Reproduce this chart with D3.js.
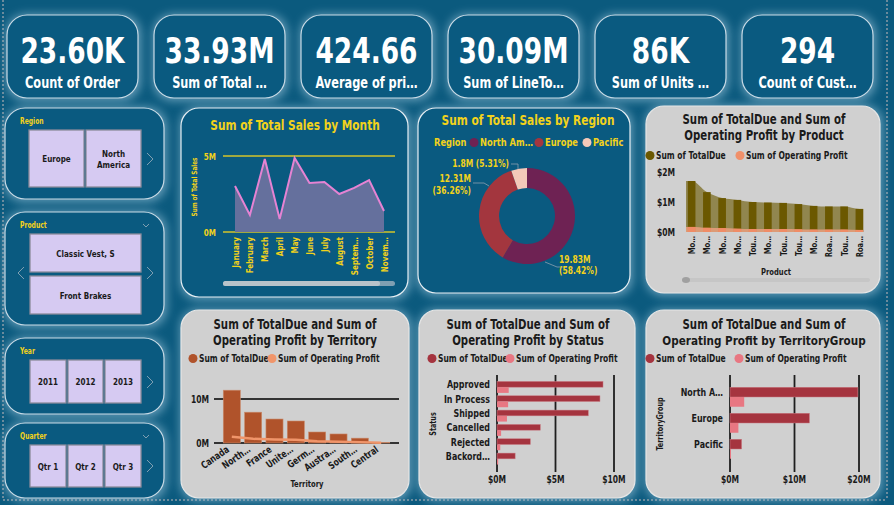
<!DOCTYPE html>
<html><head><meta charset="utf-8">
<script src="https://cdn.jsdelivr.net/npm/d3@7"></script>
<style>body{margin:0;background:#0b5a7e;overflow:hidden}svg{display:block}</style>
</head><body><script>
// ---------- DATA ----------
const kpiValues = ["23.60K","33.93M","424.66","30.09M","86K","294"];
const kpiLabels = ["Count of Order","Sum of Total …","Average of pri…","Sum of LineTo…","Sum of Units …","Count of Cust…"];

const months = ["January","February","March","April","May","June","July","August","Septem…","October","Novem…"];
const monthSales = [3.03,1.12,4.8,0.86,4.87,3.22,3.29,2.5,2.9,3.42,1.38]; // millions

const regions = ["North Am…","Europe","Pacific"];
const regionSales = [19.83,12.31,1.8];
const regionPct = ["58.42%","36.26%","5.31%"];

const products = ["Mo…","Mo…","Mo…","Mo…","Tou…","Mo…","Tou…","Tou…","Mo…","Roa…","Tou…","Roa…"];
const productDue = [1.7,1.33,1.13,1.07,1.0,0.98,0.97,0.93,0.87,0.85,0.85,0.77];
const productProfit = [0.17,0.14,0.13,0.11,0.1,0.1,0.1,0.09,0.08,0.08,0.08,0.07];

const territories = ["Canada","North…","France","Unite…","Germ…","Austra…","South…","Central"];
const territoryDue = [12.0,7.0,5.45,5.0,2.5,2.05,1.1,0.15];
const territoryProfit = [1.4,0.95,0.8,0.72,0.38,0.3,0.15,0.03];

const statuses = ["Approved","In Process","Shipped","Cancelled","Rejected","Backord…"];
const statusDue = [9.06,8.8,7.8,3.7,2.85,1.55];
const statusProfit = [1.0,0.95,0.85,0.35,0.28,0.1];

const groups = ["North A…","Europe","Pacific"];
const groupDue = [19.83,12.31,1.8];
const groupProfit = [2.2,1.3,0.15];

const slicerRegion = ["Europe","North America"];
const slicerProduct = ["Classic Vest, S","Front Brakes"];
const slicerYear = ["2011","2012","2013"];
const slicerQuarter = ["Qtr 1","Qtr 2","Qtr 3"];

// ---------- SETUP ----------
const F = "'Liberation Sans Narrow','DejaVu Sans Condensed','Roboto Condensed',Roboto,sans-serif";
const YEL = "#f2d21b", DARK = "#0a5a80", GRAY = "#d0d0d0", INK = "#1a1a1a";
const svg = d3.select("body").append("svg").attr("width",894).attr("height",505)
  .style("font-family",F).style("font-weight","bold");
svg.append("rect").attr("width",894).attr("height",505).attr("fill","#0b5a7e");
const defs = svg.append("defs");
defs.append("filter").attr("id","glow").attr("x","-30%").attr("y","-30%").attr("width","160%").attr("height","160%")
  .append("feGaussianBlur").attr("stdDeviation",5);

function card(x,y,w,h,r,fill,stroke){
  svg.append("rect").attr("x",x-1).attr("y",y-1).attr("width",w+4).attr("height",h+4).attr("rx",r)
    .attr("fill","#9cc6dc").attr("opacity",0.6).attr("filter","url(#glow)");
  svg.append("rect").attr("x",x).attr("y",y).attr("width",w).attr("height",h).attr("rx",r)
    .attr("fill",fill).attr("stroke",stroke).attr("stroke-width",1.2);
}
function txt(x,y,s,size,color,anchor="start",g=svg){
  return g.append("text").attr("x",x).attr("y",y).text(s).attr("font-size",size)
    .attr("fill",color).attr("text-anchor",anchor);
}
function legend(y,x1,c1,l1,x2,c2,l2){
  [[x1,c1,l1],[x2,c2,l2]].forEach(([x,c,l])=>{
    svg.append("circle").attr("cx",x).attr("cy",y-3.5).attr("r",4.5).attr("fill",c);
    txt(x+6,y,l,10,INK);
  });
}

// page border dots
svg.append("line").attr("x1",3).attr("x2",3).attr("y1",0).attr("y2",500).attr("stroke","#8a9aa6").attr("stroke-dasharray","2,2").attr("stroke-width",1.5);
svg.append("line").attr("x1",887).attr("x2",887).attr("y1",0).attr("y2",500).attr("stroke","#8a9aa6").attr("stroke-dasharray","2,2").attr("stroke-width",1.5);
svg.append("line").attr("x1",3).attr("x2",887).attr("y1",500).attr("y2",500).attr("stroke","#8a9aa6").attr("stroke-dasharray","2,2").attr("stroke-width",1.5);

// ---------- KPI CARDS ----------
const kpiX = d3.scalePoint().domain(d3.range(6)).range([7,742]);
kpiValues.forEach((v,i)=>{
  const x = kpiX(i);
  card(x,15,131,83,20,DARK,"#c9dbe6");
  txt(x+65.5,63,v,35,"#fff","middle");
  txt(x+65.5,88,kpiLabels[i],15,"#fff","middle");
});

// ---------- SLICERS ----------
function slicer(y,h,label,items,layout){
  card(5,y,159,h,20,DARK,"#c9dbe6");
  txt(20,y+16,label,8,YEL);
  layout.forEach((b,i)=>{
    svg.append("rect").attr("x",b[0]).attr("y",b[1]).attr("width",b[2]).attr("height",b[3])
      .attr("fill","#d6caf2").attr("stroke","#8a8a9a").attr("stroke-width",1.3);
    const lines = b[4] || [items[i]];
    lines.forEach((l,j)=> txt(b[0]+b[2]/2, b[1]+b[3]/2+3.5+(j-(lines.length-1)/2)*11, l, 9.5, INK,"middle"));
  });
}
function chevron(x,y,dir){
  svg.append("path").attr("d",`M${x-3*dir},${y-6}L${x+3*dir},${y}L${x-3*dir},${y+6}`)
    .attr("fill","none").attr("stroke","#7f9fb2").attr("stroke-width",1);
}
function chevDown(x,y){
  svg.append("path").attr("d",`M${x-3},${y-2}L${x},${y+1}L${x+3},${y-2}`).attr("fill","none").attr("stroke","#7f9fb2").attr("stroke-width",1);
}
slicer(108,91,"Region",slicerRegion,[[29,130,55,57],[86,130,55,57,["North","America"]]]);
chevron(150,159,1);
slicer(212,113,"Product",slicerProduct,[[30,234,111,38],[30,276,111,38]]);
chevron(150,273,1); chevron(21,273,-1); chevDown(146,226);
slicer(338,76,"Year",slicerYear,[[30,360,36,43],[68,360,35,43],[105,360,36,43]]);
chevron(150,382,1);
slicer(423,75,"Quarter",slicerQuarter,[[30,445,36,42],[68,445,35,42],[105,445,36,42]]);
chevron(150,466,1); chevDown(146,437);

// ---------- MONTH CHART ----------
card(181,108,227,189,18,DARK,"#e6eef3");
txt(295,130,"Sum of Total Sales by Month",14,YEL,"middle");
{
  const x = d3.scalePoint().domain(months).range([235,384]);
  const y = d3.scaleLinear().domain([0,5]).range([232,156]);
  y.ticks(1).forEach(v=>{
    svg.append("line").attr("x1",223).attr("x2",395).attr("y1",y(v)).attr("y2",y(v)).attr("stroke","#d4c52a").attr("stroke-width",1.5);
    txt(216,y(v)+3.5,v+"M",9.5,YEL,"end");
  });
  const idx = d3.range(months.length);
  svg.append("path").attr("d",d3.area().x(i=>x(months[i])).y0(y(0)).y1(i=>y(monthSales[i]))(idx)).attr("fill","#65709d");
  svg.append("path").attr("d",d3.line().x(i=>x(months[i])).y(i=>y(monthSales[i]))(idx)).attr("fill","none").attr("stroke","#e583d3").attr("stroke-width",2);
  months.forEach(m=>{
    svg.append("text").attr("transform",`translate(${x(m)+3.5},237) rotate(-90)`).attr("text-anchor","end")
      .attr("font-size",9.5).attr("fill",YEL).text(m);
  });
  svg.append("text").attr("transform","translate(197,187) rotate(-90)").attr("text-anchor","middle").attr("font-size",7.5).attr("fill",YEL).text("Sum of Total Sales");
  svg.append("rect").attr("x",223).attr("y",281).attr("width",172).attr("height",5).attr("rx",2.5).attr("fill","#7f9fb2");
  svg.append("rect").attr("x",223).attr("y",281).attr("width",157).attr("height",5).attr("rx",2.5).attr("fill","#b9c3ca");
}

// ---------- DONUT ----------
card(418,108,212,185,18,DARK,"#e6eef3");
txt(528,125,"Sum of Total Sales by Region",14,YEL,"middle");
{
  const colors = ["#6e2253","#a3363e","#f4c9b9"];
  txt(434,146,"Region",11,YEL);
  const legX = [474,539,587];
  regions.forEach((r,i)=>{
    svg.append("circle").attr("cx",legX[i]).attr("cy",142.5).attr("r",4.5).attr("fill",colors[i]);
    txt(legX[i]+6,146,r,11,YEL);
  });
  const pie = d3.pie().sort(null)(regionSales);
  const arc = d3.arc().innerRadius(28).outerRadius(48);
  const g = svg.append("g").attr("transform","translate(527,216)");
  g.selectAll("path").data(pie).join("path").attr("d",arc).attr("fill",(d,i)=>colors[i]);
  const fmt = v=> (v>=10? v.toFixed(2): v.toFixed(1))+"M";
  const ld = [
    {p:[[18,46],[30,51],[40,51]], t:[[32,47,fmt(regionSales[0])],[32,58,"("+regionPct[0]+")"]], a:"start"},
    {p:[[-38,-30],[-43,-33],[-54,-33]], t:[[-56,-34,fmt(regionSales[1])],[-56,-22,"("+regionPct[1]+")"]], a:"end"},
    {p:[[-9,-47],[-9,-52],[-16,-52]], t:[[-18,-49,fmt(regionSales[2])+" ("+regionPct[2]+")"]], a:"end"}
  ];
  ld.forEach(l=>{
    g.append("path").attr("d",d3.line()(l.p)).attr("fill","none").attr("stroke","#8aa0ae").attr("stroke-width",0.8);
    l.t.forEach(t=> txt(t[0],t[1],t[2],10,YEL,l.a,g));
  });
}

// ---------- PRODUCT CHART ----------
card(646,106,234,187,18,GRAY,"#e6e6e6");
txt(764,124,"Sum of TotalDue and Sum of",13.5,INK,"middle");
txt(764,140,"Operating Profit by Product",13.5,INK,"middle");
legend(159,650,"#6b5800","Sum of TotalDue",740,"#f0906a","Sum of Operating Profit");
{
  const x = d3.scaleBand().domain(d3.range(products.length)).range([684,867]).paddingInner(0.5).paddingOuter(0.25);
  const y = d3.scaleLinear().domain([0,2]).range([232,172]);
  y.ticks(2).forEach(v=> txt(657,y(v)+3.5,"$"+v+"M",10,INK));
  const idx = d3.range(products.length);
  const pts = (arr)=> [[x.range()[0]+2,arr[0]]].concat(idx.map(i=>[x(i)+x.bandwidth()/2,arr[i]])).concat([[x(idx.length-1)+x.bandwidth(),arr[arr.length-1]]]);
  const area = d3.area().curve(d3.curveMonotoneX).x(d=>d[0]).y0(y(0)).y1(d=>y(d[1]));
  svg.append("path").attr("d",area(pts(productDue))).attr("fill","#6b5800").attr("opacity",0.62);
  svg.selectAll(".pb").data(idx).join("rect").attr("x",i=>x(i)).attr("width",x.bandwidth())
    .attr("y",i=>y(productDue[i])).attr("height",i=>y(0)-y(productDue[i])).attr("fill","#6b5800");
  svg.append("path").attr("d",area(pts(productProfit))).attr("fill","#f0a080").attr("opacity",0.8);
  svg.selectAll(".pp").data(idx).join("rect").attr("x",i=>x(i)).attr("width",x.bandwidth())
    .attr("y",i=>y(productProfit[i])).attr("height",i=>y(0)-y(productProfit[i])).attr("fill","#f08c66");
  idx.forEach(i=>{
    svg.append("text").attr("transform",`translate(${x(i)+x.bandwidth()/2+3.5},236) rotate(-90)`).attr("text-anchor","end")
      .attr("font-size",9).attr("fill",INK).text(products[i]);
  });
  txt(776,275,"Product",9,INK,"middle");
  svg.append("rect").attr("x",682).attr("y",278).attr("width",188).attr("height",4).attr("rx",2).attr("fill","#c6c6c6");
  svg.append("ellipse").attr("cx",686).attr("cy",280).attr("rx",4).attr("ry",3).attr("fill","#a0a0a0");
}

// ---------- TERRITORY CHART ----------
card(181,310,228,188,18,GRAY,"#e6e6e6");
txt(295,329,"Sum of TotalDue and Sum of",13.5,INK,"middle");
txt(295,345,"Operating Profit by Territory",13.5,INK,"middle");
legend(362,193,"#b0532b","Sum of TotalDue",272,"#f0956a","Sum of Operating Profit");
{
  const x = d3.scaleBand().domain(territories).range([219,394]).paddingInner(0.2).paddingOuter(0.2);
  const y = d3.scaleLinear().domain([0,10]).range([443,399]);
  y.ticks(1).forEach(v=>{
    svg.append("line").attr("x1",214).attr("x2",399).attr("y1",y(v)).attr("y2",y(v)).attr("stroke","#333").attr("stroke-width",1.8);
    txt(209,y(v)+3.5,v+"M",10,INK,"end");
  });
  svg.selectAll(".tb").data(territories).join("rect").attr("x",d=>x(d)).attr("width",x.bandwidth())
    .attr("y",(d,i)=>y(territoryDue[i])).attr("height",(d,i)=>y(0)-y(territoryDue[i]))
    .attr("fill","#b0532b").attr("stroke","#c98a6a").attr("stroke-width",0.6);
  svg.append("path").attr("d",d3.line().x((d,i)=>x(territories[i])+x.bandwidth()/2).y((d,i)=>y(territoryProfit[i]))(territories))
    .attr("fill","none").attr("stroke","#f0956a").attr("stroke-width",2.5);
  territories.forEach(t=>{
    svg.append("text").attr("transform",`translate(${x(t)+x.bandwidth()/2-2},451) rotate(-35)`).attr("text-anchor","end")
      .attr("font-size",10).attr("fill",INK).text(t);
  });
  txt(307,487,"Territory",9,INK,"middle");
}

// ---------- HBAR helper ----------
function hbar(cats,due,prof,y0,y1,pIn,pOut,x0,x1,maxV,labelX,titleX,title,cDue,cProf){
  const y = d3.scaleBand().domain(cats).range([y0,y1]).paddingInner(pIn).paddingOuter(pOut);
  const sub = d3.scaleBand().domain(["d","p"]).range([0,y.bandwidth()]);
  const x = d3.scaleLinear().domain([0,maxV]).range([x0,x1]);
  x.ticks(2).forEach(v=>{
    svg.append("line").attr("x1",x(v)).attr("x2",x(v)).attr("y1",375).attr("y2",472).attr("stroke","#1e1e1e").attr("stroke-width",1.8);
    txt(x(v),483,"$"+v+"M",10,INK,"middle");
  });
  cats.forEach((c,i)=>{
    svg.append("rect").attr("x",x(0)).attr("y",y(c)+sub("d")).attr("width",x(due[i])-x(0)).attr("height",sub.bandwidth())
      .attr("fill",cDue).attr("stroke","#c77a82").attr("stroke-width",0.5);
    svg.append("rect").attr("x",x(0)).attr("y",y(c)+sub("p")).attr("width",Math.max(1,x(prof[i])-x(0))).attr("height",sub.bandwidth())
      .attr("fill",cProf);
    txt(labelX,y(c)+sub("d")+sub.bandwidth()/2+4,c,10.5,INK,"end");
  });
  svg.append("text").attr("transform",`translate(${titleX},424) rotate(-90)`).attr("text-anchor","middle")
    .attr("font-size",8.5).attr("fill",INK).text(title);
}

// ---------- STATUS CHART ----------
card(419,310,216,188,18,GRAY,"#e6e6e6");
txt(528,329,"Sum of TotalDue and Sum of",13.5,INK,"middle");
txt(528,345,"Operating Profit by Status",13.5,INK,"middle");
legend(362,432,"#a5343f","Sum of TotalDue",510,"#e87782","Sum of Operating Profit");
hbar(statuses,statusDue,statusProfit,380,466,0.2,0.1,497,614,10,490,436,"Status","#a5343f","#e87782");

// ---------- TERRITORY GROUP CHART ----------
card(646,310,234,188,18,GRAY,"#e6e6e6");
txt(764,329,"Sum of TotalDue and Sum of",13.5,INK,"middle");
const tgTitle = txt(764,345,"Operating Profit by TerritoryGroup",11.6,INK,"middle").classed("nocond",true);
legend(362,650,"#a5343f","Sum of TotalDue",739,"#e87782","Sum of Operating Profit");
hbar(groups,groupDue,groupProfit,384,462,0.25,0.125,730,859,20,723,663,"TerritoryGroup","#a5343f","#e87782");

// ---------- condense text (emulate narrow DIN-like face) ----------
svg.selectAll("text:not(.nocond)").each(function(){
  const L = this.getComputedTextLength();
  if (L > 0) d3.select(this).attr("textLength", L*0.84).attr("lengthAdjust","spacingAndGlyphs");
});
</script></body></html>
